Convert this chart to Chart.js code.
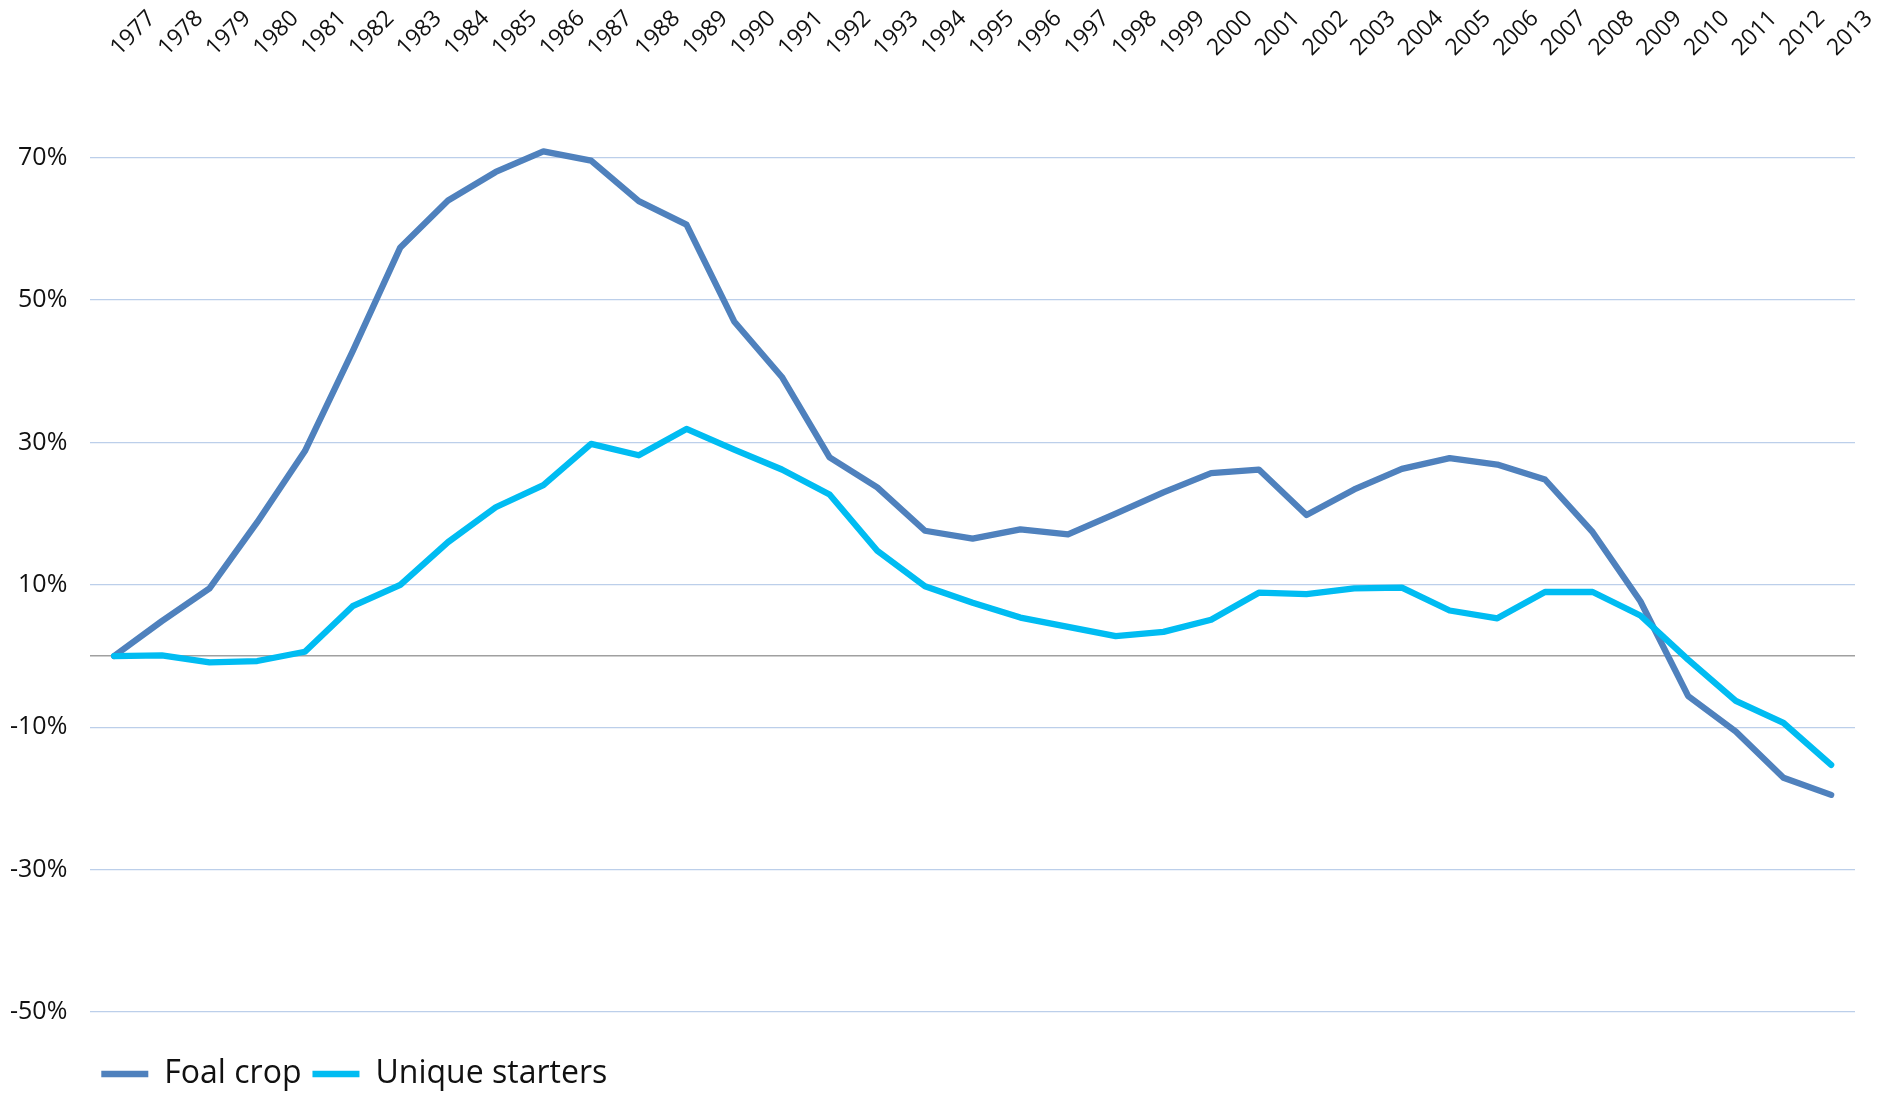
<!DOCTYPE html>
<html>
<head>
<meta charset="utf-8">
<script src="https://cdn.jsdelivr.net/npm/chart.js@4.4.1/dist/chart.umd.min.js"></script>
<style>
  html, body { margin: 0; padding: 0; background: #fff; }
  #wrap { width: 1898px; height: 1095px; }
</style>
</head>
<body>
<div id="wrap"><canvas id="growth-chart"></canvas></div>
<script>
// years shown along the top axis
const years = [1977, 1978, 1979, 1980, 1981, 1982, 1983, 1984, 1985, 1986, 1987, 1988, 1989,
  1990, 1991, 1992, 1993, 1994, 1995, 1996, 1997, 1998, 1999, 2000, 2001, 2002, 2003,
  2004, 2005, 2006, 2007, 2008, 2009, 2010, 2011, 2012, 2013];

// % change vs 1977
const foalCrop = [0, 4.9, 9.5, 18.8, 28.8, 42.8, 57.4, 64.0, 68.0, 70.9, 69.6, 63.9, 60.6,
  47.0, 39.2, 27.9, 23.7, 17.6, 16.5, 17.8, 17.1, 20.0, 23.0, 25.7, 26.2, 19.8, 23.4,
  26.3, 27.8, 26.9, 24.8, 17.4, 7.7, -5.6, -10.6, -17.1, -19.5];
const uniqueStarters = [0, 0.1, -0.9, -0.7, 0.6, 7.0, 10.0, 16.0, 20.9, 24.0, 29.8, 28.2, 31.9,
  29.0, 26.2, 22.7, 14.8, 9.8, 7.5, 5.4, 4.1, 2.8, 3.4, 5.1, 8.9, 8.7, 9.5,
  9.6, 6.4, 5.3, 9.0, 9.0, 5.7, -0.5, -6.3, -9.4, -15.3];

// y tick values (0 is only there for the darker baseline)
const yTicks = [-50, -30, -10, 0, 10, 30, 50, 70];

const FONT = "'Open Sans', 'Noto Sans', sans-serif";
const ctx = document.querySelector("#growth-chart").getContext("2d");

new Chart(ctx, {
  type: "line",
  data: {
    labels: years,
    datasets: [
      {
        label: "Foal crop",
        data: foalCrop,
        borderColor: "#4f81bd",
        backgroundColor: "#4f81bd",
        borderWidth: 6.3,
        borderJoinStyle: "round",
        borderCapStyle: "round",
        pointRadius: 0,
        tension: 0,
        clip: false,
        order: 1
      },
      {
        label: "Unique starters",
        data: uniqueStarters,
        borderColor: "#00bcf2",
        backgroundColor: "#00bcf2",
        borderWidth: 6.3,
        borderJoinStyle: "round",
        borderCapStyle: "round",
        pointRadius: 0,
        tension: 0,
        clip: false,
        order: 0
      }
    ]
  },
  options: {
    responsive: true,
    maintainAspectRatio: false,
    animation: false,
    layout: {
      padding: { left: -13, right: 43, top: 1, bottom: 0 }
    },
    scales: {
      x: {
        position: "top",
        offset: true,
        // invisible long tick marks keep the year labels up high
        grid: {
          display: true,
          drawOnChartArea: false,
          drawTicks: true,
          tickLength: 92,
          tickColor: "rgba(0,0,0,0)"
        },
        border: { display: false },
        afterFit: (scale) => {
          scale.paddingLeft = 0;
          scale.paddingRight = 0;
        },
        ticks: {
          autoSkip: false,
          minRotation: 45,
          maxRotation: 45,
          padding: 4,
          labelOffset: 20,
          color: "#111",
          font: { family: FONT, size: 23 }
        }
      },
      y: {
        min: -50,
        max: 70,
        afterBuildTicks: (scale) => {
          scale.ticks = yTicks.map(v => ({ value: v }));
        },
        border: { display: false },
        grid: {
          drawTicks: false,
          color: (c) => c.tick && c.tick.value === 0 ? "#a0a0a0" : "#bccfea",
          lineWidth: (c) => c.tick && c.tick.value === 0 ? 1.6 : 1.3
        },
        ticks: {
          padding: 23,
          color: "#111",
          font: { family: FONT, size: 25 },
          callback: (v) => v === 0 ? "" : v + "%"
        }
      }
    },
    plugins: {
      tooltip: { enabled: false },
      legend: {
        position: "bottom",
        align: "start",
        fullSize: false,
        maxHeight: 83,
        title: {
          display: true,
          text: "",
          font: { size: 10 },
          padding: { top: 0, bottom: 23 }
        },
        labels: {
          usePointStyle: true,
          pointStyle: "line",
          pointStyleWidth: 47,
          padding: 11,
          color: "#111",
          font: { family: FONT, size: 32 },
          sort: (a, b) => a.datasetIndex - b.datasetIndex
        }
      }
    }
  }
});
</script>
</body>
</html>
